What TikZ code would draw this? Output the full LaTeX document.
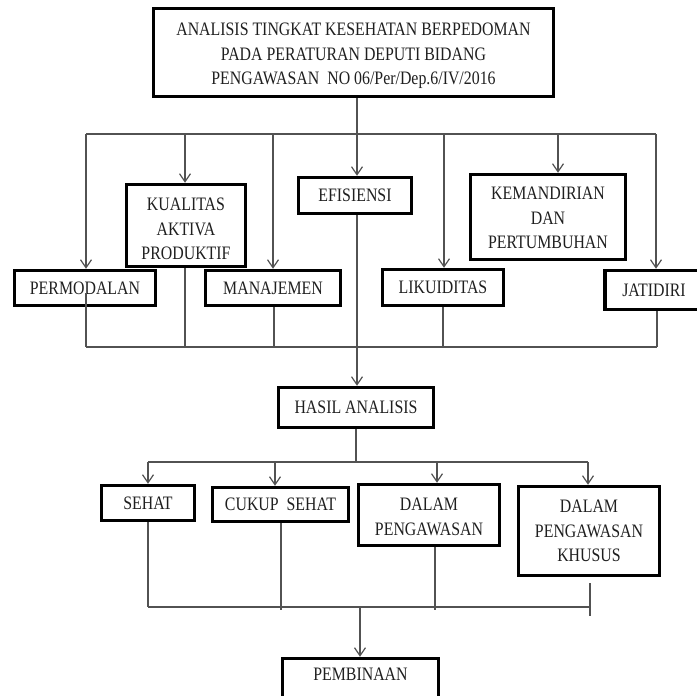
\documentclass[tikz,border=0pt]{standalone}
\usepackage{fontspec}
\setmainfont{Liberation Serif}[FakeStretch=0.835]
\usetikzlibrary{arrows.meta}
\begin{document}
\begin{tikzpicture}[x=1pt,y=-1pt,
  box/.style={draw=black,line width=3.5pt,align=center,inner sep=0pt,
    font=\fontsize{19}{24.5}\selectfont,text=black!88},
  conn/.style={draw=black!68,line width=1.2pt},
  arr/.style={conn,-{Straight Barb[length=8pt,width=11pt]}}]
\useasboundingbox (0,0) rectangle (697,696);

% boxes
\node[box,minimum width=400pt,minimum height=88pt] (top) at (353.5,52.5)
  {\rule{0pt}{20pt}ANALISIS TINGKAT KESEHATAN BERPEDOMAN\\PADA PERATURAN DEPUTI BIDANG\\PENGAWASAN\ \ NO 06/Per/Dep.6/IV/2016};
\node[box,minimum width=119pt,minimum height=82pt] (kual) at (186,225.5) {\rule{0pt}{20pt}KUALITAS\\AKTIVA\\PRODUKTIF};
\node[box,minimum width=141pt,minimum height=35pt] (perm) at (85,288) {PERMODALAN};
\node[box,minimum width=135pt,minimum height=35pt] (mana) at (273,288) {MANAJEMEN};
\node[box,minimum width=113pt,minimum height=36pt] (efis) at (355,195.5) {EFISIENSI};
\node[box,minimum width=121pt,minimum height=36pt] (liku) at (443,287.5) {LIKUIDITAS};
\node[box,minimum width=155pt,minimum height=85pt] (kema) at (548,217) {\rule{0pt}{15pt}KEMANDIRIAN\\DAN\\PERTUMBUHAN};
\node[box,minimum width=98pt,minimum height=39pt] (jati) at (654,290) {JATIDIRI};
\node[box,minimum width=155pt,minimum height=40pt] (hasil) at (356,407.5) {HASIL ANALISIS};
\node[box,minimum width=93pt,minimum height=35pt] (sehat) at (148,503) {SEHAT};
\node[box,minimum width=136pt,minimum height=34pt] (cukup) at (280.5,504.5) {CUKUP\ \ SEHAT};
\node[box,minimum width=141pt,minimum height=61pt] (dalam) at (429,515) {\rule{0pt}{16pt}DALAM\\PENGAWASAN};
\node[box,minimum width=141pt,minimum height=89pt] (khusus) at (589,531) {DALAM\\PENGAWASAN\\KHUSUS};
\node[box,minimum width=156pt,minimum height=40pt,text depth=8pt] (pemb) at (360.5,678.5) {PEMBINAAN};

% top bus
\coordinate (bL) at (86,134);
\coordinate (bR) at (656,134);
\coordinate (e) at (357,134);
\draw[conn] (bL) -- (bR);
\draw[arr] (e |- top.south) -- (e |- efis.north);
\coordinate (d1) at (86,134);
\coordinate (d2) at (185,134);
\coordinate (d3) at (273,134);
\coordinate (d4) at (444,134);
\coordinate (d5) at (558,134);
\coordinate (d6) at (656,134);
\draw[arr] (d1) -- (d1 |- perm.north);
\draw[arr] (d2) -- (d2 |- kual.north);
\draw[arr] (d3) -- (d3 |- mana.north);
\draw[arr] (d4) -- (d4 |- liku.north);
\draw[arr] (d5) -- (d5 |- kema.north);
\draw[arr] (d6) -- (d6 |- jati.north);

% first collecting bus
\coordinate (p1) at (86,293);
\coordinate (u1) at (86,347);
\coordinate (u2) at (185,347);
\coordinate (u3) at (274,347);
\coordinate (u4) at (443,347);
\coordinate (u5) at (657,347);
\draw[conn] (u1) -- (u5);
\draw[conn] (p1) -- (u1);
\draw[conn] (u2 |- kual.south) -- (u2);
\draw[conn] (u3 |- mana.south) -- (u3);
\draw[conn] (u4 |- liku.south) -- (u4);
\draw[conn] (u5 |- jati.south) -- (u5);
\draw[arr] (e |- efis.south) -- (e |- hasil.north);

% second bus
\coordinate (h) at (356,462);
\coordinate (s1) at (148,462);
\coordinate (s2) at (275,462);
\coordinate (s3) at (437,462);
\coordinate (s4) at (588,462);
\draw[conn] (h |- hasil.south) -- (h);
\draw[conn] (s1) -- (s4);
\draw[arr] (s1) -- (s1 |- sehat.north);
\draw[arr] (s2) -- (s2 |- cukup.north);
\draw[arr] (s3) -- (s3 |- dalam.north);
\draw[arr] (s4) -- (s4 |- khusus.north);

% third bus
\coordinate (v1) at (148,607);
\coordinate (v2) at (281,610);
\coordinate (v3) at (435,610);
\coordinate (v4) at (590,616);
\coordinate (v4t) at (590,583);
\coordinate (vR) at (590,607);
\coordinate (m) at (360,607);
\draw[conn] (v1) -- (vR);
\draw[conn] (v1 |- sehat.south) -- (v1);
\draw[conn] (v2 |- cukup.south) -- (v2);
\draw[conn] (v3 |- dalam.south) -- (v3);
\draw[conn] (v4t) -- (v4);
\draw[arr] (m) -- (m |- pemb.north);
\end{tikzpicture}
\end{document}
